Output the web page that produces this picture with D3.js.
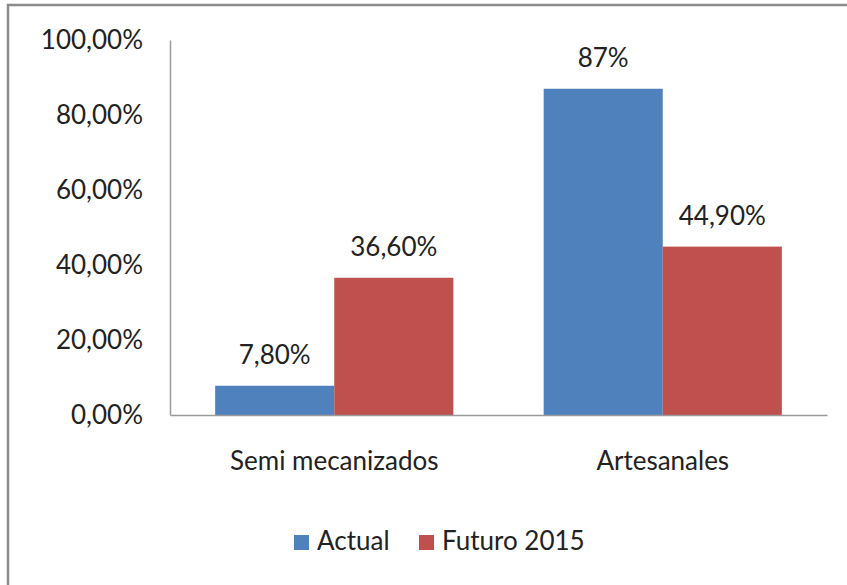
<!DOCTYPE html>
<html lang="es">
<head>
<meta charset="utf-8">
<title>Actual vs Futuro 2015</title>
<script src="https://d3js.org/d3.v7.min.js"></script>
<style>
  body { margin: 0; background: #fff; }
  text { font-family: Lato, "Open Sans", sans-serif; fill: #222; }
</style>
</head>
<body>
<script>
// data
const categories = ["Semi mecanizados", "Artesanales"];
const series = ["Actual", "Futuro 2015"];
const actual = [7.8, 87];
const futuro = [36.6, 44.9];
const actualLabels = ["7,80%", "87%"];
const futuroLabels = ["36,60%", "44,90%"];
const yTicks = [0, 20, 40, 60, 80, 100];
const yTickLabels = ["0,00%", "20,00%", "40,00%", "60,00%", "80,00%", "100,00%"];
const colors = ["#4f81bd", "#c0504d"];

const w = 847, h = 585;
const plotLeft = 170, plotRight = 827, plotTop = 40, plotBottom = 415;
const fs = 26;

const svg = d3.select("body").append("svg")
  .attr("width", w)
  .attr("height", h);

// outer frame (only top and left visible in the picture)
svg.append("rect")
  .attr("x", 8).attr("y", 5)
  .attr("width", w + 20).attr("height", h + 20)
  .attr("fill", "none")
  .attr("stroke", "#8c8c8c")
  .attr("stroke-width", 2.5);

const x0 = d3.scaleBand()
  .domain(categories)
  .range([plotLeft, plotRight])
  .paddingInner(0.275)
  .paddingOuter(0.1375);

const x1 = d3.scaleBand()
  .domain(series)
  .range([0, x0.bandwidth()]);

const y = d3.scaleLinear()
  .domain([0, 100])
  .range([plotBottom, plotTop]);

const rows = categories.map((c, i) => ({
  cat: c,
  vals: [
    { s: series[0], v: actual[i], lab: actualLabels[i] },
    { s: series[1], v: futuro[i], lab: futuroLabels[i] }
  ]
}));

const groups = svg.selectAll("g.cat")
  .data(rows)
  .enter().append("g")
  .attr("class", "cat")
  .attr("transform", d => "translate(" + x0(d.cat) + ",0)");

groups.selectAll("rect")
  .data(d => d.vals)
  .enter().append("rect")
  .attr("x", d => x1(d.s))
  .attr("y", d => y(d.v))
  .attr("width", x1.bandwidth())
  .attr("height", d => y(0) - y(d.v))
  .attr("fill", (d, i) => colors[i]);

groups.selectAll("text.val")
  .data(d => d.vals)
  .enter().append("text")
  .attr("class", "val")
  .attr("x", d => x1(d.s) + x1.bandwidth() / 2)
  .attr("y", d => y(d.v) - 22)
  .attr("text-anchor", "middle")
  .attr("font-size", fs)
  .text(d => d.lab);

// y axis
const yAxis = d3.axisLeft(y)
  .tickValues(yTicks)
  .tickSize(0)
  .tickPadding(27)
  .tickFormat((d, i) => yTickLabels[i]);

const gy = svg.append("g")
  .attr("transform", "translate(" + plotLeft + ",0)")
  .call(yAxis);
gy.select(".domain").attr("stroke", "#9a9a9a").attr("stroke-width", 1.5);
gy.selectAll("text").attr("font-size", fs).attr("fill", "#222")
  .style("font-family", "Lato, 'Open Sans', sans-serif");

// x axis
const xAxis = d3.axisBottom(x0)
  .tickSize(0)
  .tickPadding(37);

const gx = svg.append("g")
  .attr("transform", "translate(0," + plotBottom + ")")
  .call(xAxis);
gx.select(".domain").attr("stroke", "#9a9a9a").attr("stroke-width", 1.5);
gx.selectAll("text").attr("font-size", fs).attr("fill", "#222")
  .style("font-family", "Lato, 'Open Sans', sans-serif");

// legend
const legendX = [294, 419];
const legend = svg.selectAll("g.leg")
  .data(series)
  .enter().append("g")
  .attr("class", "leg")
  .attr("transform", (d, i) => "translate(" + legendX[i] + ",535)");

legend.append("rect")
  .attr("width", 15).attr("height", 15)
  .attr("fill", (d, i) => colors[i]);

legend.append("text")
  .attr("x", 23)
  .attr("y", 15)
  .attr("font-size", fs)
  .text(d => d);
</script>
</body>
</html>
